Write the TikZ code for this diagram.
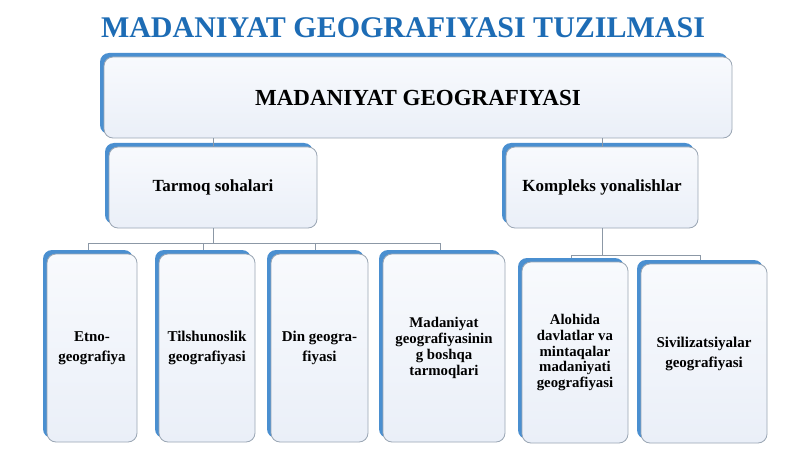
\documentclass[tikz,border=0pt]{standalone}
\usepackage{fontspec}
\setmainfont{Liberation Serif}
\usetikzlibrary{shadows,calc}
\definecolor{titleblue}{HTML}{1D6CB5}
\definecolor{bevel}{HTML}{4A8FD0}
\definecolor{boxtop}{HTML}{F8FAFD}
\definecolor{boxbot}{HTML}{EAEFF8}
\definecolor{edge}{HTML}{9AA6B4}
\definecolor{conn}{HTML}{8C98A6}
\tikzset{
  box/.style={draw=edge, line width=0.8pt, rounded corners=9pt, top color=boxtop, bottom color=boxbot,
    general shadow={fill=bevel, shadow xshift=-4pt, shadow yshift=4pt},
    align=center, font=\bfseries, inner sep=2pt},
  link/.style={draw=conn, line width=0.8pt},
}
\begin{document}
\begin{tikzpicture}[x=1pt,y=-1pt]
\useasboundingbox (0,0) rectangle (800,449);
\fill[white] (0,0) rectangle (800,449);
\node[text=titleblue, font=\bfseries\fontsize{30}{34}\selectfont] (title) at (403,28) {MADANIYAT GEOGRAFIYASI TUZILMASI};
\node[box, minimum width=628pt, minimum height=81pt, font=\bfseries\fontsize{23}{27}\selectfont] (top) at (418,97.5) {MADANIYAT GEOGRAFIYASI};
\node[box, minimum width=208pt, minimum height=81pt, font=\bfseries\fontsize{17}{20}\selectfont] (tar) at (213,187.5) {Tarmoq sohalari};
\node[box, minimum width=192pt, minimum height=81pt, font=\bfseries\fontsize{17}{20}\selectfont] (kom) at (602,187.5) {Kompleks yonalishlar};
\tikzset{small/.style={font=\bfseries\fontsize{15}{20}\selectfont}, smaller/.style={font=\bfseries\fontsize{14.8}{15.8}\selectfont}}
\node[box, small, minimum width=90pt, minimum height=188pt] (c1) at (92,348) {Etno-\\geografiya};
\node[box, small, minimum width=96pt, minimum height=188pt] (c2) at (207,348) {Tilshunoslik\\geografiyasi};
\node[box, small, minimum width=97pt, minimum height=188pt] (c3) at (319.5,348) {Din geogra-\\fiyasi};
\node[box, smaller, minimum width=122pt, minimum height=188pt] (c4) at (444,348) {Madaniyat\\geografiyasinin\\g boshqa\\tarmoqlari};
\node[box, smaller, minimum width=106pt, minimum height=181pt] (k1) at (575,352.5) {Alohida\\davlatlar va\\mintaqalar\\madaniyati\\geografiyasi};
\node[box, small, minimum width=126pt, minimum height=179pt] (k2) at (704,353.5) {Sivilizatsiyalar\\geografiyasi};
% connectors
\draw[link] (tar.north) -- (tar.north |- top.south);
\draw[link] (kom.north) -- (kom.north |- top.south);
\draw[link] (tar.south) -- ++(0,15) coordinate (tj);
\foreach \c in {c1,c2,c3,c4} \draw[link] (tj) -| ($(\c.north)+(-4,-4)$);
\draw[link] (kom.south) -- ++(0,27) coordinate (kj);
\foreach \c in {k1,k2} \draw[link] (kj) -| ($(\c.north)+(-4,-4)$);
\end{tikzpicture}
\end{document}
